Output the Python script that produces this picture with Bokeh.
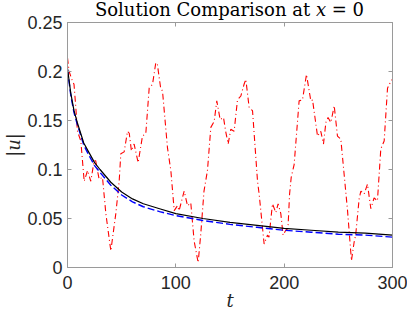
from bokeh.plotting import figure
from bokeh.models import LinearAxis, FixedTicker, Range1d, Div
from bokeh.layouts import column
from bokeh.embed import file_html
from bokeh.resources import INLINE

# smooth decaying solutions
t_ref = [0, 3, 6, 9, 15, 20, 25, 30, 40, 50, 60, 70, 85, 100, 125, 150, 175, 200, 225, 250, 275, 300]
u_exact = [0.203, 0.178, 0.160, 0.148, 0.127, 0.117, 0.107, 0.100, 0.087, 0.077, 0.070, 0.065, 0.060,
           0.055, 0.050, 0.046, 0.043, 0.040, 0.038, 0.036, 0.035, 0.033]
u_approx = [0.202, 0.176, 0.158, 0.146, 0.125, 0.114, 0.104, 0.097, 0.084, 0.074, 0.067, 0.062, 0.057,
            0.053, 0.048, 0.044, 0.041, 0.038, 0.036, 0.034, 0.033, 0.031]

# oscillating solution
t_osc = [0, 1.5, 4.6, 6, 7.7, 9.2, 12.3, 15.4, 18.5, 21.5, 24.6, 26, 29.2, 32.3, 35.4, 40, 44.6, 47.7,
         49.2, 52.3, 55.4, 57, 59, 61.5, 65.2, 69.2, 72.3, 75.4, 78.5, 81.5, 83, 86, 87.7, 92.3, 95.4,
         98.5, 101.5, 103, 107.7, 110.8, 113.8, 116.9, 120.6, 123, 126, 129.2, 132.3, 135.4, 137.8,
         140.9, 144, 146, 148.3, 150.7, 153.8, 156.9, 160, 163, 164.6, 167.7, 170.8, 175.4, 176.9,
         181.5, 184.6, 186, 189.2, 192.3, 194.4, 196.9, 199, 201.5, 203.5, 205, 206.5, 209.2, 213.8,
         216.9, 220.6, 224.6, 226.2, 230.8, 233.8, 236.3, 238.5, 240.5, 243.1, 246.2, 249.2, 252.3,
         258.5, 262.1, 264.6, 266, 269.2, 270.8, 273.8, 276.9, 280, 283, 286.1, 289.2, 292.3, 295.4,
         298.5, 300]
u_osc = [0.214, 0.200, 0.190, 0.187, 0.163, 0.139, 0.129, 0.088, 0.099, 0.088, 0.109, 0.109, 0.090,
         0.092, 0.055, 0.017, 0.055, 0.088, 0.116, 0.118, 0.139, 0.137, 0.119, 0.126, 0.107, 0.134,
         0.137, 0.183, 0.187, 0.209, 0.207, 0.183, 0.180, 0.122, 0.099, 0.058, 0.063, 0.058, 0.078,
         0.063, 0.066, 0.027, 0.005, 0.034, 0.078, 0.099, 0.143, 0.149, 0.170, 0.151, 0.153, 0.139,
         0.126, 0.141, 0.139, 0.171, 0.175, 0.187, 0.192, 0.163, 0.160, 0.088, 0.075, 0.024, 0.033,
         0.031, 0.065, 0.056, 0.065, 0.055, 0.033, 0.038, 0.040, 0.075, 0.092, 0.105, 0.170, 0.171,
         0.197, 0.170, 0.171, 0.134, 0.139, 0.126, 0.148, 0.153, 0.148, 0.165, 0.134, 0.131, 0.058,
         0.007, 0.026, 0.033, 0.070, 0.078, 0.075, 0.085, 0.060, 0.071, 0.068, 0.121, 0.129, 0.183,
         0.190, 0.192]

x_ticks = [0, 100, 200, 300]
y_ticks = [0, 0.05, 0.1, 0.15, 0.2, 0.25]
y_tick_labels = ["0", "0.05", "0.1", "0.15", "0.2", "0.25"]

AX = "#9a9a9a"
TXT = "#262626"
SANS = "Liberation Sans"
SERIF = "DejaVu Serif"

# title row (its text overflows into the transparent top border of the figure below)
title = Div(
    text=('<div style="width:325px;margin-left:67px;text-align:center;font-family:\'DejaVu Serif\';'
          'font-size:18px;line-height:21px;margin-top:-1px;color:#000;white-space:nowrap;">'
          'Solution Comparison at <i>x</i> = 0</div>'),
    width=407, height=11, margin=(0, 0, 0, 0))

p = figure(width=407, height=303, x_range=Range1d(0, 300), y_range=Range1d(0, 0.25),
           output_backend="svg", toolbar_location=None, margin=(0, 0, 0, 0),
           min_border_left=67, min_border_right=15, min_border_top=11, min_border_bottom=47)
p.grid.visible = False
p.outline_line_color = AX
p.background_fill_color = "white"
p.border_fill_color = None

for ax in (p.xaxis[0], p.yaxis[0]):
    ax.axis_line_color = AX
    ax.major_tick_line_color = AX
    ax.major_tick_in = 4
    ax.major_tick_out = 0
    ax.minor_tick_line_color = None
    ax.major_label_text_font = SANS
    ax.major_label_text_font_size = "18px"
    ax.major_label_text_color = TXT
    ax.axis_label_text_font = SERIF
    ax.axis_label_text_font_style = "italic"
    ax.axis_label_text_font_size = "18px"
    ax.axis_label_text_color = TXT

p.xaxis[0].ticker = FixedTicker(ticks=x_ticks)
p.xaxis[0].major_label_standoff = 8
p.xaxis[0].axis_label = "t"
p.xaxis[0].axis_label_standoff = -2
p.yaxis[0].ticker = FixedTicker(ticks=y_ticks)
p.yaxis[0].major_label_overrides = {v: s for v, s in zip(y_ticks, y_tick_labels)}
p.yaxis[0].major_label_standoff = 5
p.yaxis[0].axis_label = "|u|"
p.yaxis[0].axis_label_standoff = 0

for loc, tk in (("above", x_ticks), ("right", y_ticks)):
    a = LinearAxis(ticker=FixedTicker(ticks=tk))
    a.axis_line_color = AX
    a.major_tick_line_color = AX
    a.major_tick_in = 4
    a.major_tick_out = 0
    a.minor_tick_line_color = None
    a.major_label_text_font_size = "1px"
    a.major_label_text_color = None
    a.major_label_standoff = 0
    p.add_layout(a, loc)

p.line(t_osc, u_osc, line_color="#ff0000", line_width=1.1, line_dash="6 3 1 3")
p.line(t_ref, u_approx, line_color="#0000ff", line_width=1.4, line_dash="7 3")
p.line(t_ref, u_exact, line_color="#000000", line_width=1.2)

layout = column(title, p, spacing=0)

open("out.html", "w").write(file_html(layout, INLINE))
